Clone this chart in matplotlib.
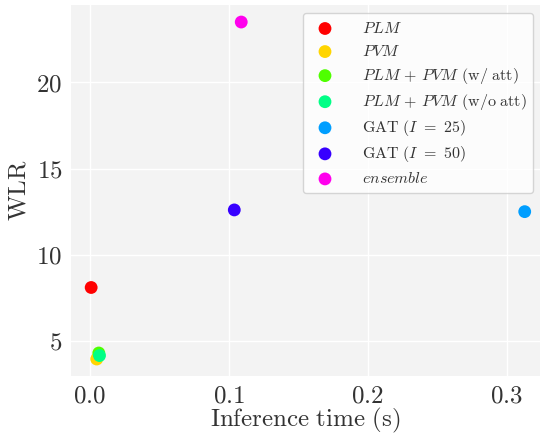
import numpy as np
import matplotlib
matplotlib.use("Agg")
import matplotlib.pyplot as plt

plt.rcParams["mathtext.fontset"] = "cm"
plt.rcParams["font.family"] = "serif"
plt.rcParams["font.serif"] = ["DejaVu Serif"]

# donnees
labels = [
    r"$PLM$",
    r"$PVM$",
    r"$PLM$ $+$ $PVM$ $\mathrm{(w/\ att)}$",
    r"$PLM$ $+$ $PVM$ $\mathrm{(w/o\ att)}$",
    r"$\mathrm{GAT}\ (I\ =\ 25)$",
    r"$\mathrm{GAT}\ (I\ =\ 50)$",
    r"$ensemble$",
]
temps = [0.001, 0.005, 0.0065, 0.007, 0.313, 0.104, 0.109]
wlr = [8.1, 3.95, 4.3, 4.15, 12.5, 12.6, 23.5]

couleurs = [plt.cm.hsv(i / 7) for i in range(len(labels))]
gris = "#333333"

fig = plt.figure(figsize=(5.4, 4.36), dpi=100)
ax = fig.add_axes([0.131, 0.137, 0.869, 0.852])
ax.set_facecolor("#f3f3f3")
for s in ax.spines.values():
    s.set_visible(False)
ax.grid(True, color="white", linewidth=1.0)
ax.set_axisbelow(True)

for t, w, c, lab in zip(temps, wlr, couleurs, labels):
    ax.scatter(t, w, s=85, color=c, label=lab, zorder=3, edgecolors="none")

ax.set_xlim(-0.0137, 0.324)
ax.set_ylim(2.95, 24.5)
ax.set_xticks([0.0, 0.1, 0.2, 0.3])
ax.set_xticklabels([r"$0.0$", r"$0.1$", r"$0.2$", r"$0.3$"])
ax.set_yticks([5, 10, 15, 20])
ax.set_yticklabels([r"$5$", r"$10$", r"$15$", r"$20$"])
ax.tick_params(length=0, labelsize=18, pad=6, labelcolor=gris)
ax.set_xlabel(r"$\mathrm{Inference\ time\ (s)}$", fontsize=18, labelpad=-1, color=gris)
ax.set_ylabel(r"$\mathrm{WLR}$", fontsize=18, labelpad=4, color=gris)

leg = ax.legend(loc="upper right", fontsize=11.5, frameon=True, fancybox=True,
                borderpad=0.4, labelspacing=0.38, handletextpad=1.3,
                borderaxespad=0.3, bbox_to_anchor=(0.995, 0.99))
leg.get_frame().set_facecolor("white")
leg.get_frame().set_edgecolor("#cccccc")
for txt in leg.get_texts():
    txt.set_color(gris)

fig.savefig("out.png", dpi=100)
